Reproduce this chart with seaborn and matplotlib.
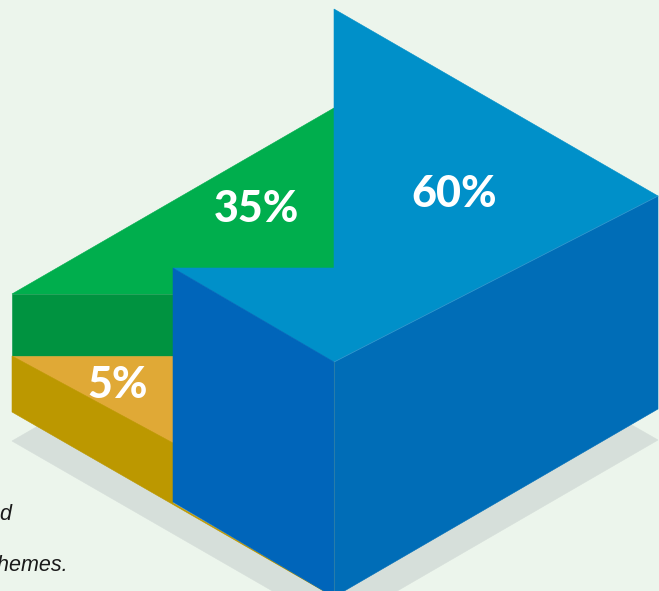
import matplotlib
matplotlib.use("Agg")
import matplotlib.pyplot as plt
import seaborn as sns

# Share of each segment and where its label sits on the block
shares = [60, 35, 5]
label_centres = [(454, 194), (256, 209), (118, 385)]

# Clipped caption lines running off the left edge
caption_lines = ["and", "themes."]
caption_anchors = [(13, 520), (68, 571)]

# Faces of the isometric block, back to front, in canvas pixels
faces = [
    ("shadow", [(12, 441), (335, 255), (658, 440), (335, 627)], "#D6DFDA"),
    ("green_top", [(12, 294), (334, 108), (334, 268), (173, 268), (173, 294)], "#00AE4D"),
    ("green_side", [(12, 294), (173, 294), (173, 356), (12, 356)], "#009340"),
    ("yellow_top", [(12, 356), (173, 356), (173, 443)], "#E0A936"),
    ("yellow_side", [(12, 356), (173, 443), (173, 503), (334, 597), (12, 412)], "#BC9800"),
    ("blue_top", [(334, 9), (658, 196), (334, 362), (173, 268), (334, 268)], "#0090C9"),
    ("blue_left", [(173, 268), (334, 362), (334, 597), (173, 502)], "#0065BA"),
    ("blue_right", [(334, 362), (658, 196), (658, 409), (334, 597)], "#006DB7"),
]

sns.set_theme(style="white")
background = "#ECF5EC"
fig, ax = plt.subplots(figsize=(6.59, 5.91), dpi=100, facecolor=background)
ax.set_position([0, 0, 1, 1])
ax.set_xlim(0, 659)
ax.set_ylim(591, 0)
ax.set_facecolor(background)
ax.axis("off")
sns.despine(ax=ax, left=True, bottom=True)

for name, corners, colour in faces:
    xs, ys = zip(*corners)
    ax.fill(xs, ys, color=colour, linewidth=0.4, edgecolor=colour, zorder=2)

# Fine highlights along the block's front edges
ax.plot([334, 658], [362, 196], color="#2F9BD0", lw=0.6, zorder=3)
ax.plot([334, 334], [362, 597], color="#2F7FA8", lw=0.6, zorder=3)

for value, (x, y) in zip(shares, label_centres):
    ax.text(x, y, f"{value}%", color="white", family="Lato", weight="black",
            fontsize=31, ha="center", va="center", zorder=4)

for line, (x, y) in zip(caption_lines, caption_anchors):
    ax.text(x, y, line, color="#1A1A1A", fontfamily="Liberation Sans", fontstyle="italic",
            fontsize=15.5, ha="right", va="baseline", zorder=4)

fig.savefig("out.png", dpi=100, facecolor=background)
